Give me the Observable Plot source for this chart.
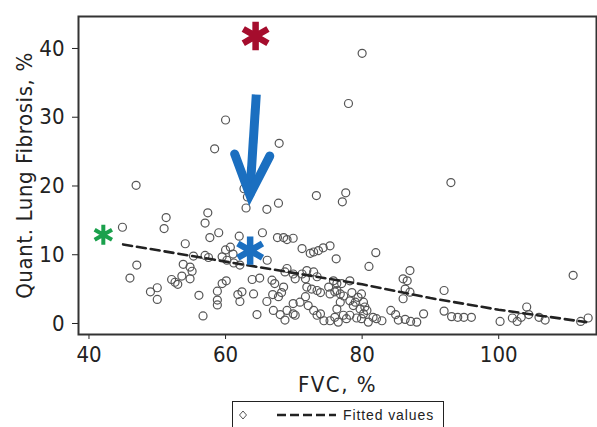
<!DOCTYPE html>
<html><head><meta charset="utf-8">
<script src="https://cdn.jsdelivr.net/npm/d3@7"></script>
<script src="https://cdn.jsdelivr.net/npm/@observablehq/plot@0.6"></script>
<style>
body{margin:0;background:#fff;width:597px;height:427px;overflow:hidden;position:relative;font-family:"DejaVu Sans",sans-serif;font-stretch:condensed;}
#chart{position:absolute;left:0;top:0;}
#legend{position:absolute;left:232px;top:401px;width:212px;height:40px;border:1.5px solid #222;box-sizing:border-box;background:#fff;}
#legend span{position:absolute;left:110px;top:5px;font-size:14px;letter-spacing:0.9px;color:#222;font-family:"Liberation Sans",sans-serif;}
svg text{font-stretch:condensed;}
</style></head><body>
<div id="chart"></div>
<div id="legend">
<svg width="210" height="30" style="position:absolute;left:0;top:0">
<path d="M6.5,13 L10,9 L13.5,13 L10,17 Z" fill="none" stroke="#555" stroke-width="1"/>
<line x1="44" x2="103" y1="13" y2="13" stroke="#222" stroke-width="2.5" stroke-dasharray="9,4"/>
</svg>
<span>Fitted values</span>
</div>
<script>
const fvc = [80.0,78.0,60.0,58.4,67.85,46.9,93.0,73.3,77.6,77.1,62.7,63.2,63.0,66.05,67.75,57.4,57.0,51.3,51.0,44.9,
59.0,57.7,62.0,65.4,67.6,68.5,69.0,69.9,54.1,60.7,60.0,61.1,59.5,60.2,55.3,57.0,57.5,66.1,
71.2,72.4,72.9,73.6,74.3,75.3,76.2,82.0,81.0,87.0,86.0,86.6,86.3,87.0,86.0,92.0,110.9,
47.0,46.0,49.0,50.0,50.0,52.1,52.6,53.0,53.6,54.8,53.8,54.8,55.1,56.1,56.7,58.8,58.8,58.8,59.5,60.1,
61.2,62.1,61.8,62.1,62.4,63.9,65.0,64.1,64.6,66.05,66.9,67.0,67.75,68.0,68.7,69.0,69.9,69.9,70.9,70.2,
66.8,67.2,68.5,68.2,69.0,68.7,69.9,70.2,71.2,71.9,72.9,73.4,71.7,71.9,72.6,75.1,76.0,77.0,78.2,78.5,
71.7,72.1,72.9,73.4,73.9,74.4,75.3,76.0,76.3,76.8,77.25,77.7,76.5,73.4,73.9,75.3,76.3,76.8,77.3,75.8,76.3,
78.2,79.0,79.4,79.9,80.2,80.4,78.7,79.7,80.2,80.7,79.9,80.9,81.6,82.1,82.9,78.2,79.2,
84.2,84.9,85.3,86.3,87.1,88.0,89.0,92.0,93.1,94.0,94.9,96.0,104.1,100.2,102.0,102.7,103.3,104.4,105.9,106.8,112.0,113.1];
const fibrosis = [39.3,32.0,29.6,25.4,26.2,20.1,20.5,18.6,19.0,17.7,19.6,18.4,16.8,16.6,17.5,16.1,14.6,15.4,13.8,14.0,
13.2,12.5,12.7,13.2,12.5,12.5,12.2,12.4,11.6,11.1,10.7,10.1,9.7,9.2,9.8,9.9,9.6,9.2,
10.9,10.2,10.4,10.6,11.0,11.3,9.4,10.3,8.3,7.7,6.5,6.2,5.0,4.55,3.6,4.8,7.0,
8.5,6.6,4.6,5.2,3.5,6.4,6.0,5.7,6.9,6.5,8.6,8.2,7.6,4.1,1.1,4.7,3.4,2.7,5.8,6.2,
8.8,8.5,4.2,3.2,4.6,6.4,6.6,4.3,1.3,3.2,4.2,1.9,3.9,1.3,0.5,1.9,2.9,1.4,3.1,1.2,
6.3,5.8,5.3,4.5,8.0,7.5,7.2,6.5,7.2,7.7,7.5,6.8,6.5,5.3,5.0,5.3,4.6,5.8,6.2,4.5,
3.9,2.6,1.9,1.2,1.4,0.4,0.4,0.9,2.1,3.1,1.2,0.7,0.2,4.8,4.5,4.3,4.8,4.3,4.0,6.2,5.8,
3.3,3.1,3.8,4.3,3.1,2.4,2.6,2.1,1.4,1.9,0.7,0.2,0.9,0.7,0.4,1.2,0.8,
1.9,1.3,0.5,0.6,0.3,0.2,1.4,1.8,1.0,0.9,0.9,0.9,2.4,0.3,0.8,0.3,0.9,1.3,0.9,0.5,0.3,0.8];

const fitFvc = [45, 60, 80, 90, 100, 112.8];
const fitFib = [11.5, 9.0, 5.7, 3.7, 2.0, 0.2];

const xTicks = [40, 60, 80, 100];
const yTicks = [0, 10, 20, 30, 40];

const starFvc = [64.4, 42.1, 63.6];
const starFib = [41.8, 12.9, 10.6];
const starColor = ["#a50d2d", "#1aa04c", "#1b6fc0"];
const starSize = [13.5, 9.5, 13.5];
const starWidth = [6.5, 4, 6.5];

const arrowFvc = [64.5, 63.55];
const arrowFib = [33.3, 18.7];

const pts = fvc.map((x, i) => ({x, y: fibrosis[i]}));
const fit = fitFvc.map((x, i) => ({x, y: fitFib[i]}));
const stars = starFvc.map((x, i) => ({x, y: starFib[i], c: starColor[i], r: starSize[i], w: starWidth[i]}));
const arrows = [{x1: arrowFvc[0], y1: arrowFib[0], x2: arrowFvc[1], y2: arrowFib[1]}];

// chevron arrowhead symbol (tip at the anchor point)
const chevron = {
  draw(context, size) {
    const s = Math.sqrt(size / Math.PI);
    context.moveTo(-0.72 * s, -1.95 * s);
    context.lineTo(0, 0);
    context.lineTo(0.95 * s, -1.85 * s);
  }
};

const chart = Plot.plot({
  width: 597, height: 398,
  marginLeft: 78, marginTop: 16, marginRight: 1, marginBottom: 64,
  style: {fontSize: "22px", fontFamily: '"DejaVu Sans",sans-serif', color: "#222", background: "white", overflow: "visible"},
  r: {type: "identity"},
  color: {type: "identity"},
  x: {domain: [38.465, 114.32], ticks: xTicks, tickSize: 5, tickPadding: 7, label: "FVC, %", labelArrow: "none", labelAnchor: "center", labelOffset: 57},
  y: {domain: [-1.6, 44.65], ticks: yTicks, tickSize: 6, tickPadding: 8, label: "Quant. Lung Fibrosis, %", labelArrow: "none", labelAnchor: "center", labelOffset: 62},
  marks: [
    Plot.frame({stroke: "#333", strokeWidth: 2}),
    Plot.dot(pts, {x: "x", y: "y", r: 4, stroke: "#555", strokeWidth: 1.2, fill: "none"}),
    Plot.line(fit, {x: "x", y: "y", stroke: "#222", strokeWidth: 2.6, strokeDasharray: "9,5"}),
    Plot.link(arrows, {x1: "x1", y1: "y1", x2: "x2", y2: "y2", stroke: "#1b6fc0", strokeWidth: 9}),
    Plot.dot(arrows, {x: "x2", y: "y2", symbol: chevron, r: 21, fill: "none", stroke: "#1b6fc0", strokeWidth: 9, strokeLinecap: "round", strokeLinejoin: "miter"}),
    Plot.dot(stars, {x: "x", y: "y", symbol: "asterisk", r: "r", stroke: "c", strokeWidth: "w"})
  ]
});
document.getElementById("chart").appendChild(chart);
const xl = chart.querySelector('[aria-label="x-axis label"] text');
if (xl) xl.setAttribute("letter-spacing", "1.5");
const yl = chart.querySelector('[aria-label="y-axis label"] text');
if (yl) yl.setAttribute("letter-spacing", "0.6");
</script>
</body></html>
